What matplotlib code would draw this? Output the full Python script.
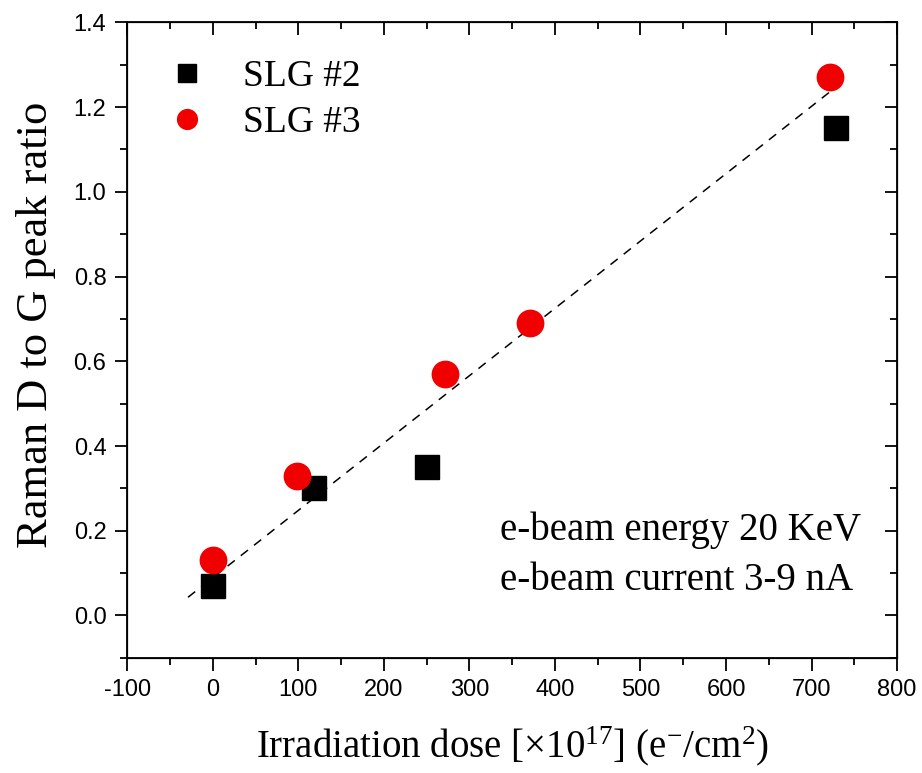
import matplotlib.pyplot as plt
from matplotlib.ticker import MultipleLocator

# SLG #2 (black squares)
slg2_dose = [0, 118, 250, 728]
slg2_ratio = [0.07, 0.30, 0.35, 1.15]

# SLG #3 (red circles)
slg3_dose = [0, 98, 271, 371, 722]
slg3_ratio = [0.13, 0.33, 0.57, 0.69, 1.27]

# linear fit
fit_dose = [-29, 727]
fit_slope = 0.00159
fit_intercept = 0.089

serif = "Liberation Serif"
sans = "Liberation Sans"

plt.rcParams["axes.unicode_minus"] = False
plt.rcParams["mathtext.fontset"] = "custom"
plt.rcParams["mathtext.rm"] = serif
plt.rcParams["mathtext.it"] = serif + ":italic"
plt.rcParams["mathtext.default"] = "regular"

fig = plt.figure(figsize=(9.22, 7.73), dpi=100)
ax = fig.add_axes([0.138, 0.149, 0.835, 0.822])

fit_ratio = [fit_intercept + fit_slope * d for d in fit_dose]
ax.plot(fit_dose, fit_ratio, color="black", linestyle=(0, (6, 5)), linewidth=1.1, zorder=2)

ax.plot(slg2_dose, slg2_ratio, linestyle="none", marker="s", markersize=17,
        color="black", label="SLG #2", zorder=3)
ax.plot(slg3_dose, slg3_ratio, linestyle="none", marker="o", markersize=19,
        color="#f00000", label="SLG #3", zorder=4)

ax.set_xlim(-100, 800)
ax.set_ylim(-0.1, 1.4)
ax.xaxis.set_major_locator(MultipleLocator(100))
ax.xaxis.set_minor_locator(MultipleLocator(50))
ax.yaxis.set_major_locator(MultipleLocator(0.2))
ax.yaxis.set_minor_locator(MultipleLocator(0.1))
ax.yaxis.set_major_formatter(plt.FuncFormatter(lambda v, p: f"{v:.1f}"))

ax.tick_params(which="major", direction="out", length=9, width=1.3, pad=6,
               labelsize=17, labelfontfamily=sans)
ax.tick_params(which="minor", direction="out", length=5, width=1.3)
for spine in ax.spines.values():
    spine.set_linewidth(1.3)

# mirrored inward ticks on top and right
top = ax.twiny()
top.set_xlim(ax.get_xlim())
top.xaxis.set_major_locator(MultipleLocator(100))
top.xaxis.set_minor_locator(MultipleLocator(50))
top.tick_params(axis="x", which="major", direction="in", length=9, width=1.3, labeltop=False)
top.tick_params(axis="x", which="minor", direction="in", length=5, width=1.3)
right = ax.twinx()
right.set_ylim(ax.get_ylim())
right.yaxis.set_major_locator(MultipleLocator(0.2))
right.yaxis.set_minor_locator(MultipleLocator(0.1))
right.tick_params(axis="y", which="major", direction="in", length=9, width=1.3, labelright=False)
right.tick_params(axis="y", which="minor", direction="in", length=5, width=1.3)

ax.set_xlabel(r"Irradiation dose [$\times$10$^{17}$] (e$^{-}$/cm$^{2}$)",
              fontfamily=serif, fontsize=28, labelpad=17)
ax.set_ylabel("Raman D to G peak ratio", fontfamily=serif, fontsize=32)
ax.yaxis.set_label_coords(-0.092, 0.524)

ax.legend(loc="upper left", bbox_to_anchor=(0.0, 1.0), frameon=False,
          prop={"family": serif, "size": 27}, markerscale=0.75,
          handlelength=1.2, handletextpad=0.9, labelspacing=0.3, borderaxespad=0.6)

ax.text(0.484, 0.186, "e-beam energy 20 KeV", transform=ax.transAxes,
        ha="left", va="baseline", fontfamily=serif, fontsize=28)
ax.text(0.484, 0.107, "e-beam current 3-9 nA", transform=ax.transAxes,
        ha="left", va="baseline", fontfamily=serif, fontsize=28)

fig.savefig("out.png", dpi=100)
